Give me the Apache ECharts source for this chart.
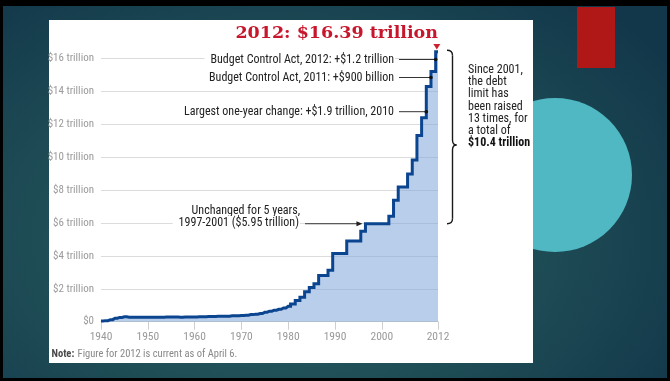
<!DOCTYPE html>
<html>
<head>
<meta charset="utf-8">
<script src="https://cdn.jsdelivr.net/npm/echarts@6/dist/echarts.min.js"></script>
<style>
  html, body { margin: 0; padding: 0; width: 670px; height: 381px; overflow: hidden; background: #000; }
  #slide { position: absolute; left: 3px; top: 6px; width: 664px; height: 372px;
    background: radial-gradient(ellipse 70% 85% at 42% 62%, #2c6163 0%, #1e4c55 55%, #12374a 100%); }
  #bar { position: absolute; left: 577px; top: 7px; width: 38px; height: 61px; background: #b01818; }
  #disc { position: absolute; left: 478px; top: 98px; width: 154px; height: 154px; border-radius: 50%; background: #4fb8c2; }
  #panel { position: absolute; left: 49px; top: 20px; width: 484px; height: 343px; background: #fff; }
  #chart { position: absolute; left: 0; top: 0; width: 670px; height: 381px; }
</style>
</head>
<body>
<div id="slide"></div>
<div id="bar"></div>
<div id="disc"></div>
<div id="panel"></div>
<div id="chart"></div>
<script>
// U.S. statutory debt limit by year, trillions of dollars
const years = [
  1940, 1941, 1942, 1943, 1944, 1945, 1946, 1947, 1948, 1949,
  1950, 1951, 1952, 1953, 1954, 1955, 1956, 1957, 1958, 1959,
  1960, 1961, 1962, 1963, 1964, 1965, 1966, 1967, 1968, 1969,
  1970, 1971, 1972, 1973, 1974, 1975, 1976, 1977, 1978, 1979,
  1980, 1981, 1982, 1983, 1984, 1985, 1986, 1987, 1988, 1989,
  1990, 1991, 1992, 1993, 1994, 1995, 1996, 1997, 1998, 1999,
  2000, 2001, 2002, 2003, 2004, 2005, 2006, 2007, 2008, 2009,
  2010, 2011, 2012
];
const debtLimit = [
  0.049, 0.065, 0.125, 0.210, 0.260, 0.300, 0.275, 0.275, 0.275, 0.275,
  0.275, 0.275, 0.275, 0.275, 0.281, 0.281, 0.278, 0.275, 0.280, 0.285,
  0.293, 0.298, 0.300, 0.309, 0.315, 0.324, 0.328, 0.336, 0.358, 0.365,
  0.377, 0.395, 0.430, 0.450, 0.495, 0.577, 0.636, 0.700, 0.752, 0.830,
  0.935, 1.079, 1.290, 1.490, 1.820, 2.079, 2.300, 2.800, 2.800, 3.123,
  4.145, 4.145, 4.145, 4.900, 4.900, 4.900, 5.500, 5.950, 5.950, 5.950,
  5.950, 5.950, 6.400, 7.384, 8.184, 8.184, 8.965, 9.815, 11.315, 12.394,
  14.294, 15.194, 16.394
];

const xTickYears = [1940, 1950, 1960, 1970, 1980, 1990, 2000, 2012];
const yTickValues = [0, 2, 4, 6, 8, 10, 12, 14, 16];
const yTickLabels = ['$0', '$2 trillion', '$4 trillion', '$6 trillion', '$8 trillion',
  '$10 trillion', '$12 trillion', '$14 trillion', '$16 trillion'];

const titleText = '2012: $16.39 trillion';
const callouts = [
  { text: 'Budget Control Act, 2012: +$1.2 trillion', year: 2012 },
  { text: 'Budget Control Act, 2011: +$900 billion', year: 2011 },
  { text: 'Largest one-year change: +$1.9 trillion, 2010', year: 2010 }
];
const flatNote = ['Unchanged for 5 years,', '1997-2001 ($5.95 trillion)'];
const flatStartYear = 1997;
const braceFromYear = 1997;
const braceToYear = 2012;
const sideNote = ['Since 2001,', 'the debt', 'limit has', 'been raised', '13 times, for', 'a total of'];
const sideTotal = '$10.4 trillion';
const noteLabel = 'Note:';
const noteText = 'Figure for 2012 is current as of April 6.';

const SANS = "'Liberation Sans Narrow', 'Roboto Condensed', 'Liberation Sans', sans-serif";
const SERIF = "'DejaVu Serif', 'Liberation Serif', serif";

const chart = echarts.init(document.getElementById('chart'), null, { renderer: 'canvas' });

chart.setOption({
  backgroundColor: 'transparent',
  animation: false,
  grid: { left: 101, right: 232, top: 58.3, bottom: 59.3, containLabel: false },
  xAxis: {
    type: 'value', min: 1940, max: 2012, interval: 2,
    axisLine: { show: true, lineStyle: { color: '#cfcfcf', width: 1 } },
    axisTick: { show: true, length: 8, customValues: xTickYears, lineStyle: { color: '#cfcfcf' } },
    axisLabel: { customValues: xTickYears, margin: 9, color: '#9a9a9a', fontFamily: SANS, fontSize: 11.5,
      formatter: v => String(v) },
    splitLine: { show: false }
  },
  yAxis: {
    type: 'value', min: 0, max: 16, interval: 2,
    axisLine: { show: false }, axisTick: { show: false },
    axisLabel: { margin: 7, color: '#9a9a9a', fontFamily: SANS, fontSize: 11,
      formatter: v => yTickLabels[yTickValues.indexOf(v)] },
    splitLine: { lineStyle: { color: '#dcdcdc', width: 1 } }
  },
  series: [{
    type: 'line',
    step: 'middle',
    clip: false,
    symbol: 'none',
    data: years.map((y, i) => [y, debtLimit[i]]),
    lineStyle: { color: '#0b4590', width: 3, join: 'miter' },
    areaStyle: { color: 'rgba(125,166,216,0.55)', opacity: 1 }
  }]
});

// Annotations placed from the data coordinates
const px = (x, y) => chart.convertToPixel({ gridIndex: 0 }, [x, y]);
const g = [];

const lastX = px(years[years.length - 1] - 0.25, 0)[0];
g.push({ type: 'text', z: 10, style: { text: titleText, x: 438, y: 33.5, align: 'right', verticalAlign: 'middle',
  font: 'bold 17.5px ' + SERIF, fill: '#c8172c' } });
g.push({ type: 'polygon', z: 10, shape: { points: [[lastX - 3.5, 44], [lastX + 3.5, 44], [lastX, 49.5]] },
  style: { fill: '#d0202f' } });

const calloutY = [59.5, 77.5, 111.7];
callouts.forEach((c, i) => {
  const dotX = px(c.year - 0.5, 0)[0];
  const y = calloutY[i];
  g.push({ type: 'text', z: 10, style: { text: c.text, x: 395, y: y, align: 'right', verticalAlign: 'middle',
    font: '12px ' + SANS, fill: '#222', backgroundColor: '#fff', padding: [1, 1, 1, 6] } });
  g.push({ type: 'line', z: 10, shape: { x1: 399, y1: y, x2: dotX, y2: y }, style: { stroke: '#333', lineWidth: 1 } });
  g.push({ type: 'circle', z: 11, shape: { cx: dotX, cy: y, r: 1.8 }, style: { fill: '#111' } });
});

// Five-year plateau note with arrow
const flatPt = px(flatStartYear - 0.5, debtLimit[years.indexOf(flatStartYear)]);
g.push({ type: 'text', z: 10, style: { text: flatNote[0], x: 300, y: 210.7, align: 'right', verticalAlign: 'middle',
  font: '12px ' + SANS, fill: '#222' } });
g.push({ type: 'text', z: 10, style: { text: flatNote[1], x: 300, y: 222.9, align: 'right', verticalAlign: 'middle',
  font: '12px ' + SANS, fill: '#222', backgroundColor: '#fff', padding: [1, 1, 1, 6] } });
const tipX = flatPt[0] - 3;
g.push({ type: 'line', z: 10, shape: { x1: 305, y1: flatPt[1], x2: tipX - 4, y2: flatPt[1] }, style: { stroke: '#333', lineWidth: 1 } });
g.push({ type: 'polygon', z: 10, shape: { points: [[tipX - 6, flatPt[1] - 2.5], [tipX, flatPt[1]], [tipX - 6, flatPt[1] + 2.5]] },
  style: { fill: '#222' } });

// Brace spanning the increases since 2001
const bTop = px(2012, debtLimit[years.indexOf(braceToYear)])[1] - 1.5;
const bBot = px(2012, debtLimit[years.indexOf(braceFromYear)])[1];
const xl = 447, xv = 452.5, xt = 456.5, tip = 145;
const braceStyle = { fill: 'none', stroke: '#1a1a1a', lineWidth: 1.4 };
const braceParts = [
  { type: 'bezierCurve', shape: { x1: xl, y1: bTop, cpx1: xv, cpy1: bTop, x2: xv, y2: bTop + 5 } },
  { type: 'line', shape: { x1: xv, y1: bTop + 5, x2: xv, y2: tip - 5 } },
  { type: 'bezierCurve', shape: { x1: xv, y1: tip - 5, cpx1: xv, cpy1: tip, x2: xt, y2: tip } },
  { type: 'bezierCurve', shape: { x1: xt, y1: tip, cpx1: xv, cpy1: tip, x2: xv, y2: tip + 5 } },
  { type: 'line', shape: { x1: xv, y1: tip + 5, x2: xv, y2: bBot - 5 } },
  { type: 'bezierCurve', shape: { x1: xv, y1: bBot - 5, cpx1: xv, cpy1: bBot, x2: xl, y2: bBot } }
];
braceParts.forEach(p => g.push(Object.assign({ z: 10, style: braceStyle }, p)));

sideNote.forEach((t, i) => {
  g.push({ type: 'text', z: 10, style: { text: t, x: 468, y: 70 + i * 12.2, align: 'left', verticalAlign: 'middle',
    font: '12px ' + SANS, fill: '#222' } });
});
g.push({ type: 'text', z: 10, style: { text: sideTotal, x: 468, y: 70 + sideNote.length * 12.2, align: 'left',
  verticalAlign: 'middle', font: 'bold 12px ' + SANS, fill: '#111' } });

g.push({ type: 'text', z: 10, style: { x: 51.5, y: 354.3, verticalAlign: 'middle',
  text: '{b|' + noteLabel + '} {n|' + noteText + '}',
  rich: { b: { fontFamily: SANS, fontWeight: 'bold', fontSize: 10.5, fill: '#4a4a4a' },
          n: { fontFamily: SANS, fontSize: 10.5, fill: '#888' } } } });

chart.setOption({ graphic: g });
</script>
</body>
</html>
